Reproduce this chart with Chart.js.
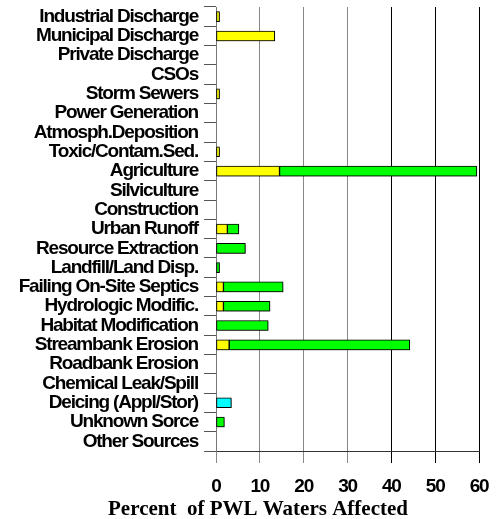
<!DOCTYPE html>
<html>
<head>
<meta charset="utf-8">
<script src="https://cdn.jsdelivr.net/npm/chart.js@4/dist/chart.umd.min.js"></script>
<style>
  html, body { margin: 0; padding: 0; background: #fff; }
  #wrap { width: 501px; height: 519px; position: relative; }
</style>
</head>
<body>
<div id="wrap"><canvas id="c" width="501" height="519"></canvas></div>
<script>
const categories = [
  "Industrial Discharge", "Municipal Discharge", "Private Discharge", "CSOs",
  "Storm Sewers", "Power Generation", "Atmosph.Deposition", "Toxic/Contam.Sed.",
  "Agriculture", "Silviculture", "Construction", "Urban Runoff",
  "Resource Extraction", "Landfill/Land Disp.", "Failing On-Site Septics",
  "Hydrologic Modific.", "Habitat Modification", "Streambank Erosion",
  "Roadbank Erosion", "Chemical Leak/Spill", "Deicing (Appl/Stor)",
  "Unknown Sorce", "Other Sources"
];
const yellowValues = [0.8, 13.4, null, null, 0.8, null, null, 0.8, 14.5, null, null, 2.6,
  null, null, 1.7, 1.7, null, 3.0, null, null, null, null, null];
const greenValues = [null, null, null, null, null, null, null, null, 45.0, null, null, 2.6,
  6.7, 0.8, 13.6, 10.6, 11.9, 41.2, null, null, null, 1.9, null];
const cyanValues = [null, null, null, null, null, null, null, null, null, null, null, null,
  null, null, null, null, null, null, null, null, 3.5, null, null];
const xTicks = [0, 10, 20, 30, 40, 50, 60];
const xTitle = "Percent  of PWL Waters Affected";

const sans = '"Liberation Sans", Arial, sans-serif';

const tightText = {
  id: 'tightText',
  beforeLayout(chart) { chart.ctx.letterSpacing = '-1.2px'; },
  beforeDraw(chart) { chart.ctx.letterSpacing = '-1.2px'; }
};

const shadowPlugin = {
  id: 'barShadow',
  beforeDatasetsDraw(chart) {
    const ctx = chart.ctx;
    ctx.save();
    ctx.shadowColor = 'rgba(0,0,0,0.45)';
    ctx.shadowBlur = 2;
    ctx.shadowOffsetX = 1;
    ctx.shadowOffsetY = 1;
  },
  afterDatasetsDraw(chart) {
    chart.ctx.restore();
  }
};

const bottomTitle = {
  id: 'bottomTitle',
  afterDraw(chart) {
    const ctx = chart.ctx;
    ctx.save();
    ctx.letterSpacing = '0px';
    ctx.font = 'bold 21px "Liberation Serif", "Times New Roman", serif';
    ctx.fillStyle = '#000';
    ctx.textAlign = 'center';
    ctx.textBaseline = 'alphabetic';
    ctx.fillText(xTitle, 258, 515);
    ctx.restore();
  }
};

const common = { borderColor: '#000', borderWidth: 1, borderSkipped: false, barThickness: 10 };

new Chart(document.getElementById('c'), {
  type: 'bar',
  data: {
    labels: categories,
    datasets: [
      Object.assign({ label: 'Yellow', data: yellowValues, backgroundColor: '#FFFF00' }, common),
      Object.assign({ label: 'Green', data: greenValues, backgroundColor: '#00FF00' }, common),
      Object.assign({ label: 'Cyan', data: cyanValues, backgroundColor: '#00FFFF' }, common)
    ]
  },
  options: {
    indexAxis: 'y',
    responsive: false,
    animation: false,
    layout: { padding: { top: 7, left: 0, right: 22, bottom: 0 } },
    plugins: {
      legend: { display: false },
      tooltip: { enabled: false },
      title: { display: false }
    },
    scales: {
      x: {
        stacked: true,
        min: 0, max: 60,
        afterBuildTicks(axis) { axis.ticks = xTicks.map(v => ({ value: v })); },
        afterFit(scale) { scale.height = 68; scale.paddingLeft = 0; scale.paddingRight = 0; },
        ticks: {
          color: '#000',
          padding: 12,
          font: { family: sans, weight: 'bold', size: 19 }
        },
        grid: {
          color: ctx => (ctx.tick && ctx.tick.value >= 40) ? '#000' : '#888',
          lineWidth: 1,
          tickLength: 12,
          drawOnChartArea: true
        },
        border: { display: true, color: '#333', width: 1 }
      },
      y: {
        stacked: true,
        afterFit(scale) { scale.width = 216; scale.paddingTop = 0; scale.paddingBottom = 0; },
        ticks: {
          color: '#000',
          padding: 6,
          autoSkip: false,
          font: { family: sans, weight: 'bold', size: 19 }
        },
        grid: {
          drawOnChartArea: false,
          color: '#555',
          tickLength: 12
        },
        border: { display: true, color: '#777', width: 1 }
      }
    }
  },
  plugins: [tightText, shadowPlugin, bottomTitle]
});
</script>
</body>
</html>
